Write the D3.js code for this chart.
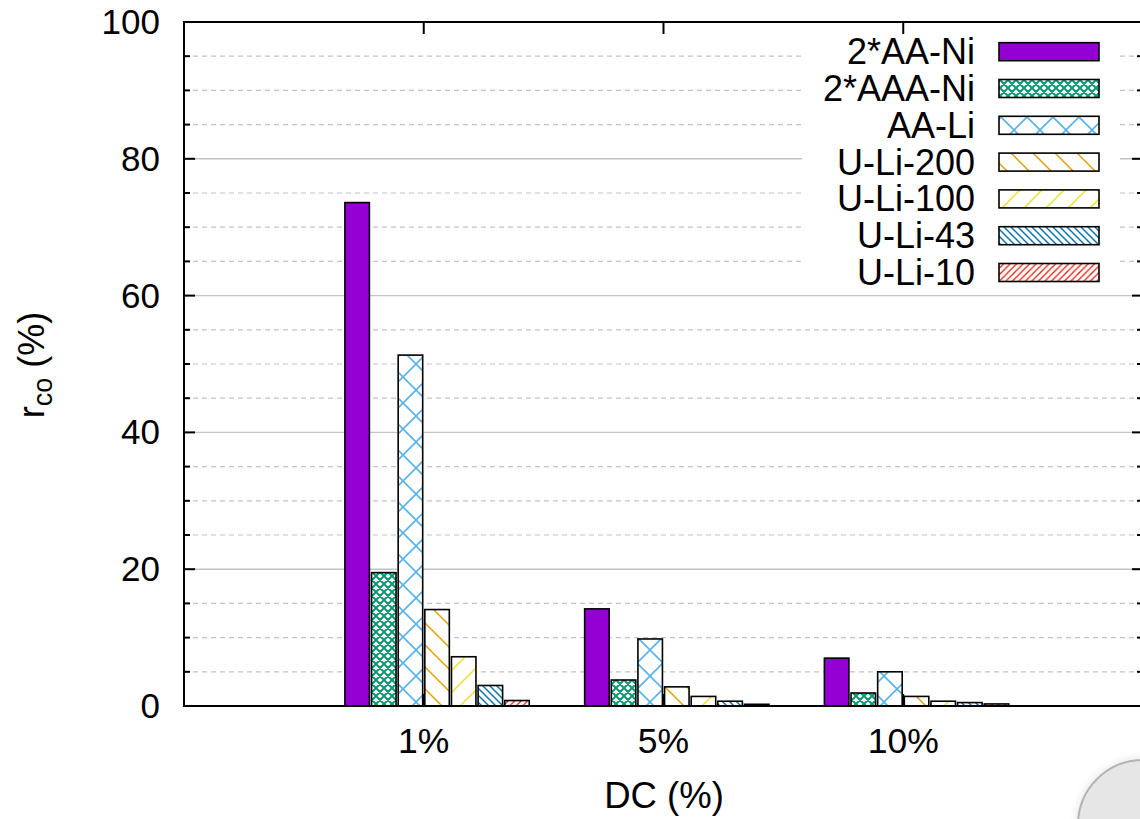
<!DOCTYPE html>
<html>
<head>
<meta charset="utf-8">
<script src="https://cdn.jsdelivr.net/npm/d3@7"></script>
<style>
  body { margin: 0; background: #fff; }
  svg { display: block; font-family: "Liberation Sans", Arial, sans-serif; }
</style>
</head>
<body>
<div id="chart"></div>
<script>
// values
const categories = ["1%", "5%", "10%"];
const seriesNames = ["2*AA-Ni", "2*AAA-Ni", "AA-Li", "U-Li-200", "U-Li-100", "U-Li-43", "U-Li-10"];
const aaNi2 = [73.6, 14.2, 7.0];
const aaaNi2 = [19.5, 3.8, 1.9];
const aaLi = [51.3, 9.8, 5.0];
const uLi200 = [14.1, 2.8, 1.4];
const uLi100 = [7.2, 1.4, 0.7];
const uLi43 = [3.0, 0.7, 0.5];
const uLi10 = [0.8, 0.25, 0.3];
const yMajor = [0, 20, 40, 60, 80, 100];
const yMinor = d3.range(5, 100, 5).filter(v => v % 20 !== 0);

const seriesValues = [aaNi2, aaaNi2, aaLi, uLi200, uLi100, uLi43, uLi10];
const colors = ["#9400d3", "#009e73", "#56b4e9", "#e69f00", "#f0e442", "#0072b2", "#e51e10"];

const width = 1140, height = 819;
const plot = {left: 184, top: 22, right: 1143, bottom: 706};

const svg = d3.select("#chart").append("svg")
  .attr("width", width)
  .attr("height", height);

// x in cluster units: tick i sits at i, plot spans -1..3
const x = d3.scaleLinear().domain([-1, 3]).range([plot.left, plot.right]);
const y = d3.scaleLinear().domain([0, 100]).range([plot.bottom, plot.top]);
const slot = 1 / 9; // 7 bars + 2 gap slots per cluster
const barW = x(0.92 * slot) - x(0);

// fill patterns (gnuplot style)
const defs = svg.append("defs");
function hatch(id, size, d, color, sw) {
  const p = defs.append("pattern")
    .attr("id", id)
    .attr("patternUnits", "userSpaceOnUse")
    .attr("width", size).attr("height", size);
  p.append("rect").attr("width", size).attr("height", size).attr("fill", "#fff");
  p.append("path").attr("d", d).attr("stroke", color).attr("stroke-width", sw).attr("fill", "none");
}
function back(s) { return `M${-s},${-s}L${2 * s},${2 * s}M${-s},0L${s},${2 * s}M0,${-s}L${2 * s},${s}`; }
function fwd(s) { return `M${-s},${2 * s}L${2 * s},${-s}M${-s},${s}L${s},${-s}M0,${2 * s}L${2 * s},0`; }

hatch("p1", 8, back(8) + fwd(8), colors[1], 2.1);
hatch("p2", 26, back(26) + fwd(26), colors[2], 1.6);
hatch("p3", 22, back(22), colors[3], 1.5);
hatch("p4", 22, fwd(22), colors[4], 1.6);
hatch("p5", 7, back(7), colors[5], 1.4);
hatch("p6", 6.5, fwd(6.5), colors[6], 1.3);

const fills = [colors[0], "url(#p1)", "url(#p2)", "url(#p3)", "url(#p4)", "url(#p5)", "url(#p6)"];

// grid
const grid = svg.append("g").attr("class", "grid");
grid.selectAll("line.minor")
  .data(yMinor)
  .join("line")
  .attr("class", "minor")
  .attr("x1", plot.left).attr("x2", plot.right)
  .attr("y1", d => y(d)).attr("y2", d => y(d))
  .attr("stroke", "#c4c4c4")
  .attr("stroke-width", 1.2)
  .attr("stroke-dasharray", "5,4");
grid.selectAll("line.major")
  .data(yMajor.slice(1, -1))
  .join("line")
  .attr("class", "major")
  .attr("x1", plot.left).attr("x2", plot.right)
  .attr("y1", d => y(d)).attr("y2", d => y(d))
  .attr("stroke", "#c4c4c4")
  .attr("stroke-width", 1.4);

// legend box hides the grid
svg.append("rect")
  .attr("x", 802).attr("y", plot.top)
  .attr("width", 318).attr("height", 268)
  .attr("fill", "#fff");

// bars
const barData = [];
seriesValues.forEach((vals, j) => {
  vals.forEach((v, i) => barData.push({i, j, v}));
});

svg.append("g").attr("class", "bars")
  .selectAll("rect")
  .data(barData)
  .join("rect")
  .attr("x", d => x(d.i + (d.j - 2.5) * slot) - barW / 2)
  .attr("y", d => y(d.v))
  .attr("width", barW)
  .attr("height", d => y(0) - y(d.v))
  .attr("fill", d => fills[d.j])
  .attr("stroke", "#000")
  .attr("stroke-width", 1.6);

// border
svg.append("rect")
  .attr("x", plot.left).attr("y", plot.top)
  .attr("width", plot.right - plot.left)
  .attr("height", plot.bottom - plot.top)
  .attr("fill", "none")
  .attr("stroke", "#000")
  .attr("stroke-width", 2);

// ticks, inward on all sides
const ticks = svg.append("g").attr("class", "ticks").attr("stroke", "#000").attr("stroke-width", 2);
[[yMajor, 11], [yMinor, 6]].forEach(([vals, len]) => {
  vals.forEach(v => {
    ticks.append("line").attr("x1", plot.left).attr("x2", plot.left + len).attr("y1", y(v)).attr("y2", y(v));
    ticks.append("line").attr("x1", plot.right).attr("x2", plot.right - len).attr("y1", y(v)).attr("y2", y(v));
  });
});
categories.forEach((c, i) => {
  ticks.append("line").attr("x1", x(i)).attr("x2", x(i)).attr("y1", plot.bottom).attr("y2", plot.bottom - 12);
  ticks.append("line").attr("x1", x(i)).attr("x2", x(i)).attr("y1", plot.top).attr("y2", plot.top + 12);
});

// tick labels
svg.append("g")
  .selectAll("text")
  .data(yMajor)
  .join("text")
  .attr("x", 160)
  .attr("y", d => y(d) + 12)
  .attr("text-anchor", "end")
  .attr("font-size", 35)
  .text(d => d);

svg.append("g")
  .selectAll("text")
  .data(categories)
  .join("text")
  .attr("x", (d, i) => x(i))
  .attr("y", 753)
  .attr("text-anchor", "middle")
  .attr("font-size", 35.5)
  .text(d => d);

// axis titles
svg.append("text")
  .attr("x", 664).attr("y", 808)
  .attr("text-anchor", "middle")
  .attr("font-size", 36.5)
  .text("DC (%)");

const yt = svg.append("text")
  .attr("transform", "translate(44,365) rotate(-90)")
  .attr("text-anchor", "middle")
  .attr("font-size", 36);
yt.append("tspan").text("r");
yt.append("tspan").attr("font-size", 27).attr("dy", 8).text("co");
yt.append("tspan").attr("dy", -8).text(" (%)");

// legend
const legend = svg.append("g").attr("class", "legend");
seriesNames.forEach((name, j) => {
  const cy = 51.7 + j * 36.8;
  legend.append("text")
    .attr("x", 975).attr("y", cy + 12.5)
    .attr("text-anchor", "end")
    .attr("font-size", 36)
    .text(name);
  legend.append("rect")
    .attr("x", 999).attr("y", cy - 9)
    .attr("width", 100).attr("height", 18)
    .attr("fill", fills[j])
    .attr("stroke", "#000")
    .attr("stroke-width", 1.6);
});

// round overlay in the corner
const shadow = defs.append("filter").attr("id", "soft").attr("x", "-30%").attr("y", "-30%").attr("width", "160%").attr("height", "160%");
shadow.append("feGaussianBlur").attr("in", "SourceAlpha").attr("stdDeviation", 4).attr("result", "b");
shadow.append("feFlood").attr("flood-color", "#000").attr("flood-opacity", 0.12);
shadow.append("feComposite").attr("in2", "b").attr("operator", "in").attr("result", "s");
const m = shadow.append("feMerge");
m.append("feMergeNode").attr("in", "s");
m.append("feMergeNode").attr("in", "SourceGraphic");
svg.append("circle")
  .attr("cx", 1143).attr("cy", 825).attr("r", 65)
  .attr("fill", "#e6e6e6")
  .attr("stroke", "#b4b4b4")
  .attr("stroke-width", 2)
  .attr("filter", "url(#soft)");
</script>
</body>
</html>
